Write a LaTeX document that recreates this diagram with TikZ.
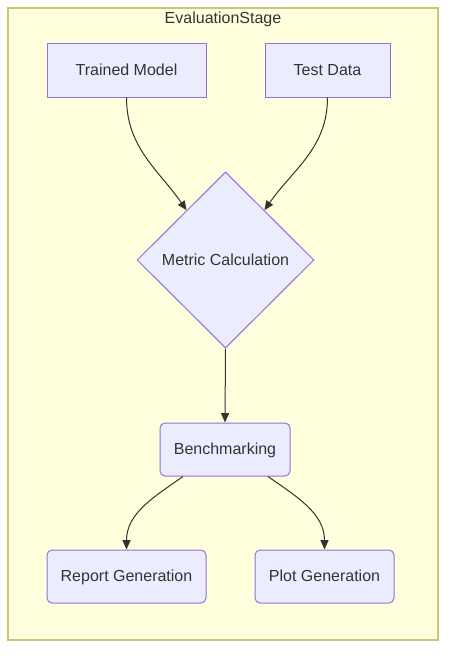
\documentclass[tikz,border=0pt]{standalone}
\usepackage{fontspec}
\setmainfont{Liberation Sans}
\usepackage{tikz}
\usetikzlibrary{calc,shapes.geometric,arrows.meta}
\definecolor{clusterfill}{HTML}{FFFFDE}
\definecolor{clusterline}{HTML}{C8C878}
\definecolor{nodefill}{HTML}{ECECFF}
\definecolor{nodeline}{HTML}{9370DB}
\definecolor{textgray}{HTML}{333333}
\tikzstyle{stage} = [rectangle, draw=clusterline, fill=clusterfill, line width=1.1pt]
\tikzstyle{block} = [rectangle, draw=nodeline, fill=nodefill, text=textgray, line width=0.75pt, text centered, minimum height=39.75pt, inner sep=0pt, text height=9.6pt, text depth=1.8pt]
\tikzstyle{roundblock} = [block, rounded corners=3.75pt]
\tikzstyle{decision} = [diamond, aspect=1, draw=nodeline, fill=nodefill, text=textgray, line width=0.75pt, inner sep=0pt, minimum width=132.75pt, minimum height=132pt]
\tikzstyle{connector} = [line width=0.75pt, draw=textgray, -{Triangle[length=7pt,width=6pt]}]

\begin{document}
\begin{tikzpicture}[x=0.75pt, y=0.75pt, font=\fontsize{12pt}{14pt}\selectfont]
            \useasboundingbox (0,0) rectangle (454,-660);
            \draw [stage] (8,-8) rectangle (438,-640);
            \node (title) [text=textgray] at (223,-19) {EvaluationStage};
            \node (model) [block, minimum width=119.25pt] at (126.5,-70.5) {Trained Model};
            \node (testdata) [block, minimum width=93.75pt] at (327.5,-70.5) {Test Data};
            \node (metric) [decision] at (225.5,-260) {Metric Calculation};
            \node (bench) [roundblock, minimum width=97.5pt] at (225,-449.5) {Benchmarking};
            \node (report) [roundblock, minimum width=119.25pt] at (126.5,-576.5) {Report Generation};
            \node (plot) [roundblock, minimum width=104.25pt] at (324.5,-576.5) {Plot Generation};
            \draw [connector] (model.south) to[out=-90, in=125] (metric.128);
            \draw [connector] (testdata.south) to[out=-90, in=55] (metric.52);
            \draw [connector] (metric.south) -- (bench.north);
            \draw [connector] ($(bench.south)+(-42,0)$) to[out=-145, in=90] (report.north);
            \draw [connector] ($(bench.south)+(43,0)$) to[out=-35, in=90] (plot.north);
        \end{tikzpicture}
\end{document}
